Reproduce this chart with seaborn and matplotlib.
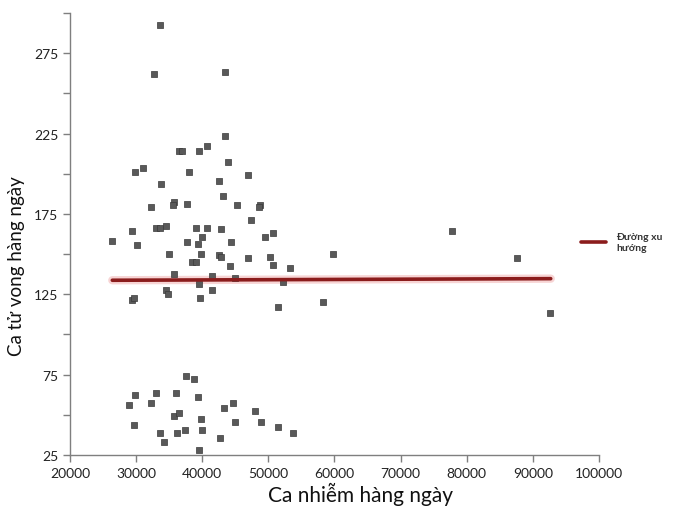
import matplotlib
matplotlib.use("Agg")
import matplotlib.pyplot as plt
import seaborn as sns
import pandas as pd
from matplotlib.ticker import MultipleLocator, FixedLocator

sns.set_style("white")
plt.rcParams["font.family"] = ["Lato", "DejaVu Sans"]

# daily cases / daily deaths
cases = [33600, 32700, 43400, 43400, 40700, 36500, 37000, 39500, 43900, 31050,
         29850, 38000, 46900, 42500, 33800, 43100, 35700, 35600, 37700, 32250,
         45200, 48700, 48550, 47350, 29400, 33050, 33550, 34500, 39050, 40700,
         42800, 50650, 49450, 26400, 30150, 37700, 39950, 39350, 44350, 34950,
         39800, 42500, 42800, 46900, 50200, 38500, 39100, 50650, 44150, 53200,
         35700, 41450, 44900, 39500, 52150, 34500, 34800, 41450, 29400, 29700,
         39650, 51400, 59700, 58200, 77800, 87600, 92600,
         37550, 38750, 29850, 33000, 36050, 39350, 28950, 32250, 43250, 44600,
         47950, 35700, 36500, 29700, 39800, 44900, 48850, 51400, 53800, 33600,
         36200, 37400, 39950, 34200, 42650, 39500]
deaths = [292.4, 261.9, 263.2, 223.3, 217.1, 214.0, 214.0, 214.0, 207.1, 203.4,
          200.9, 200.9, 199.1, 195.3, 193.5, 186.0, 182.3, 180.3, 181.0, 179.1,
          180.4, 180.4, 179.1, 171.1, 164.2, 166.1, 166.1, 167.3, 166.1, 166.1,
          165.5, 163.0, 160.5, 158.0, 155.5, 157.4, 160.5, 156.1, 157.4, 149.9,
          149.9, 149.3, 148.0, 147.4, 148.0, 144.9, 144.9, 143.0, 142.4, 141.2,
          137.4, 136.2, 135.0, 131.2, 132.5, 127.5, 125.0, 127.5, 121.3, 122.5,
          122.5, 116.9, 149.9, 120.0, 164.2, 147.4, 113.2,
          74.0, 72.1, 62.2, 63.4, 63.4, 60.9, 55.9, 57.2, 54.1, 57.2,
          52.2, 49.1, 51.0, 43.5, 47.2, 45.3, 45.3, 42.2, 38.5, 38.5,
          38.5, 40.4, 40.4, 32.9, 35.4, 27.9]

# trend line end points
trend_x = [26400, 92700]
trend_y = [133.7, 134.7]

df = pd.DataFrame({"cases": cases, "deaths": deaths})
trend = pd.DataFrame({"x": trend_x, "y": trend_y})

fig = plt.figure(figsize=(6.75, 5.1), dpi=100)
ax = fig.add_axes([0.1037, 0.106, 0.7837, 0.8665])

sns.scatterplot(data=df, x="cases", y="deaths", ax=ax, marker="s", s=22,
                color="#595959", edgecolor="#3a3a3a", linewidth=0.5, zorder=3)
# soft glow under the trend line
sns.lineplot(data=trend, x="x", y="y", ax=ax, color="#f2b8b8", linewidth=6,
             alpha=0.6, zorder=2)
sns.lineplot(data=trend, x="x", y="y", ax=ax, color="#8b1c1c", linewidth=2.6,
             zorder=4, label="Đường xu\nhướng")

ax.set_xlim(20000, 100000)
ax.set_ylim(25, 300)
ax.xaxis.set_major_locator(MultipleLocator(10000))
ax.yaxis.set_major_locator(FixedLocator([25, 75, 125, 175, 225, 275]))
ax.yaxis.set_minor_locator(FixedLocator([50, 100, 150, 200, 250, 300]))

for s in ["top", "right"]:
    ax.spines[s].set_visible(False)
for s in ["left", "bottom"]:
    ax.spines[s].set_color("#7f7f7f")
    ax.spines[s].set_linewidth(1.0)

ax.tick_params(axis="both", which="both", direction="out", color="#7f7f7f",
               length=5, width=1, labelsize=10, labelcolor="#222222")
ax.tick_params(axis="y", which="minor", left=True)
ax.tick_params(axis="x", which="major", bottom=True)
ax.tick_params(axis="y", which="major", left=True)

ax.set_xlabel("Ca nhiễm hàng ngày", fontsize=15, color="#111111")
ax.set_ylabel("Ca tử vong hàng ngày", fontsize=13.5, color="#111111")
ax.xaxis.set_label_coords(0.55, -0.06)
ax.yaxis.set_label_coords(-0.085, 0.43)

leg = ax.legend(loc="center left", bbox_to_anchor=(0.948, 0.482), frameon=False,
                fontsize=7.5, handlelength=2.4, handletextpad=1.0)
for t in leg.get_texts():
    t.set_fontweight("bold")
    t.set_color("#333333")

fig.savefig("out.png", dpi=100)
